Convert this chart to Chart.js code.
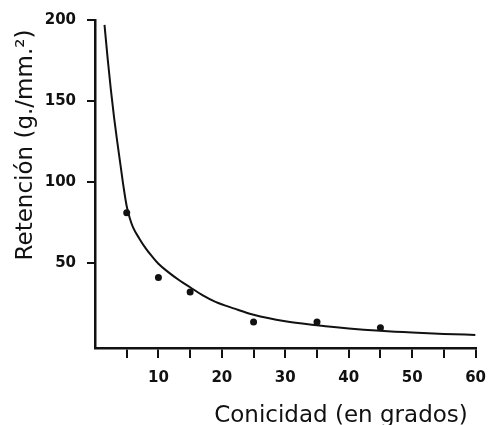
<!DOCTYPE html>
<html>
<head>
<meta charset="utf-8">
<script src="https://cdn.jsdelivr.net/npm/chart.js@4/dist/chart.umd.min.js"></script>
<style>
  html, body { margin: 0; padding: 0; background: #fff; }
  #wrap { width: 497px; height: 425px; }
</style>
</head>
<body>
<div id="wrap"><canvas id="chart" width="497" height="425"></canvas></div>
<script>
// measured points (Conicidad en grados vs Retención)
const pointX = [5, 10, 15, 25, 35, 45];
const pointY = [81, 41, 32, 13.6, 13.6, 10];

// fitted curve
const curveX = [1.5, 2, 2.5, 3, 3.5, 4, 4.5, 5, 5.5, 6, 7, 8, 9, 10, 11.5, 13.4, 15, 17, 19, 22, 25, 30, 35, 40, 45, 50, 55, 60];
const curveY = [197, 176, 157, 140, 125, 111, 97, 85, 77.5, 72, 65, 59, 54, 49.5, 44.5, 39, 35, 30, 26, 21.8, 18, 14, 11.6, 9.6, 8.1, 7, 6.2, 5.6];

const yTicks = [50, 100, 150, 200];
const xTicks = [5, 10, 15, 20, 25, 30, 35, 40, 45, 50, 55, 60];

const xTitle = 'Conicidad (en grados)';
const yTitle = 'Retención (g./mm.²)';

const ink = '#111';
const tickFont = { family: 'DejaVu Sans', size: 15, weight: 'bold' };

// axis titles sit off-centre in the original, so draw them by hand
const axisTitles = {
  id: 'axisTitles',
  afterDraw(chart) {
    const ctx = chart.ctx;
    ctx.save();
    ctx.fillStyle = ink;
    ctx.font = '23px "DejaVu Sans"';
    ctx.textAlign = 'center';
    ctx.textBaseline = 'alphabetic';
    ctx.fillText(xTitle, 341, 422);
    ctx.translate(32, 145);
    ctx.rotate(-Math.PI / 2);
    ctx.fillText(yTitle, 0, 0);
    ctx.restore();
  }
};

const chartData = {
  datasets: [
    {
      label: 'curva',
      data: curveX.map((x, i) => ({ x, y: curveY[i] })),
      showLine: true,
      borderColor: ink,
      borderWidth: 2,
      pointRadius: 0,
      cubicInterpolationMode: 'monotone'
    },
    {
      label: 'medidas',
      data: pointX.map((x, i) => ({ x, y: pointY[i] })),
      showLine: false,
      pointRadius: 3.5,
      pointBackgroundColor: ink,
      pointBorderColor: ink,
      pointBorderWidth: 0
    }
  ]
};

const chartConfig = {
  type: 'scatter',
  data: chartData,
  options: {
    responsive: false,
    animation: false,
    layout: { padding: { left: 0, right: 12, top: 20, bottom: 0 } },
    plugins: {
      legend: { display: false },
      tooltip: { enabled: false }
    },
    scales: {
      x: {
        type: 'linear',
        min: 0,
        max: 60,
        afterBuildTicks: axis => { axis.ticks = xTicks.map(v => ({ value: v })); },
        afterFit: axis => { axis.height = 77; },
        ticks: {
          color: ink,
          font: tickFont,
          padding: 11,
          maxRotation: 0,
          autoSkip: false,
          callback: v => (v % 10 === 0 ? v : '')
        },
        grid: { drawOnChartArea: false, drawTicks: true, tickLength: 10, color: ink, lineWidth: 2 },
        border: { display: true, color: ink, width: 2.5 }
      },
      y: {
        type: 'linear',
        min: -2.5,
        max: 200,
        afterBuildTicks: axis => { axis.ticks = yTicks.map(v => ({ value: v })); },
        afterFit: axis => { axis.width = 95; },
        ticks: { color: ink, font: tickFont, padding: 11 },
        grid: { drawOnChartArea: false, drawTicks: true, tickLength: 8, color: ink, lineWidth: 2 },
        border: { display: true, color: ink, width: 2.5 }
      }
    }
  },
  plugins: [axisTitles]
};

new Chart(document.getElementById('chart'), chartConfig);
</script>
</body>
</html>
